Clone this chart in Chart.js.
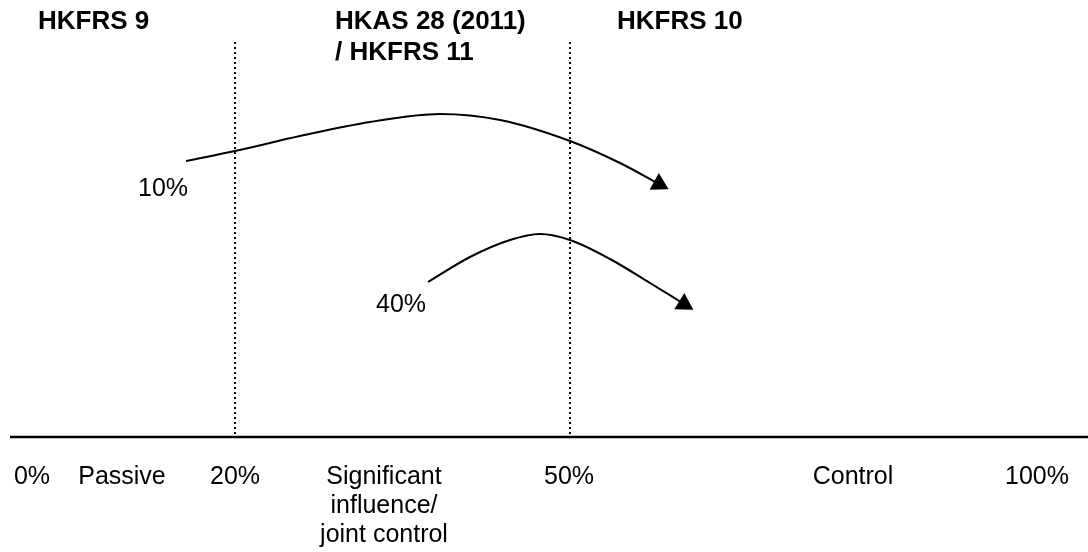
<!DOCTYPE html>
<html>
<head>
<meta charset="utf-8">
<script src="https://cdn.jsdelivr.net/npm/chart.js@4"></script>
<style>
  html, body { margin: 0; padding: 0; background: #fff; }
  canvas { display: block; }
</style>
</head>
<body>
<canvas id="myChart" width="1088" height="552"></canvas>
<script>
'use strict';

// diagram units: x 0..1088 left to right, y 0..552 top to bottom
let axisLine = [ { x: 10, y: 437 }, { x: 1088, y: 437 } ];
let boundary20 = [ { x: 235, y: 42 }, { x: 235, y: 437 } ];
let boundary50 = [ { x: 570, y: 42 }, { x: 570, y: 437 } ];

let arrow10 = [
  { x: 186, y: 161 }, { x: 235, y: 151 }, { x: 300, y: 136 }, { x: 370, y: 122 },
  { x: 440, y: 114 }, { x: 500, y: 120 }, { x: 570, y: 141 }, { x: 620, y: 163 },
  { x: 659, y: 184 }
];
let arrow40 = [
  { x: 428, y: 282 }, { x: 470, y: 257 }, { x: 510, y: 240 }, { x: 540, y: 234 },
  { x: 570, y: 240 }, { x: 610, y: 259 }, { x: 650, y: 283 }, { x: 684, y: 304 }
];

let headerLabels = [ 'HKFRS 9', 'HKAS 28 (2011)', '/ HKFRS 11', 'HKFRS 10' ];
let stakeLabels = [ '10%', '40%' ];
let bottomLabels = [ '0%', 'Passive', '20%', 'Significant', 'influence/', 'joint control', '50%', 'Control', '100%' ];

// where each text goes (diagram units), same order as the label arrays
const headerPos = [ [ 38, 29 ], [ 335, 29 ], [ 335, 60 ], [ 617, 29 ] ];
const stakePos = [ [ 163, 196 ], [ 401, 312 ] ];
const bottomPos = [ [ 32, 484 ], [ 122, 484 ], [ 235, 484 ], [ 384, 484 ], [ 384, 513 ], [ 384, 542 ], [ 569, 484 ], [ 853, 484 ], [ 1037, 484 ] ];

function headStyles( arr, rot ) {
  return {
    pointStyle: arr.map( ( p, i ) => i === arr.length - 1 ? 'triangle' : false ),
    pointRadius: arr.map( ( p, i ) => i === arr.length - 1 ? 9 : 0 ),
    pointRotation: rot
  };
}

const textPlugin = {
  id: 'diagramText',
  afterDraw( chart ) {
    const ctx = chart.ctx;
    const xs = chart.scales.x;
    const ys = chart.scales.y;
    ctx.save();
    ctx.fillStyle = '#000';
    ctx.textBaseline = 'alphabetic';

    ctx.font = 'bold 26px "Liberation Sans", Arial, sans-serif';
    ctx.textAlign = 'left';
    headerLabels.forEach( ( t, i ) => {
      ctx.fillText( t, xs.getPixelForValue( headerPos[i][0] ), ys.getPixelForValue( headerPos[i][1] ) );
    } );

    ctx.font = '25px "Liberation Sans", Arial, sans-serif';
    ctx.textAlign = 'center';
    stakeLabels.forEach( ( t, i ) => {
      ctx.fillText( t, xs.getPixelForValue( stakePos[i][0] ), ys.getPixelForValue( stakePos[i][1] ) );
    } );
    bottomLabels.forEach( ( t, i ) => {
      ctx.fillText( t, xs.getPixelForValue( bottomPos[i][0] ), ys.getPixelForValue( bottomPos[i][1] ) );
    } );
    ctx.restore();
  }
};

let ctx = document.getElementById( 'myChart' ).getContext( '2d' );
let myChart = new Chart( ctx, {
  type: 'scatter',
  data: {
    datasets: [{
      data: axisLine,
      showLine: true,
      borderColor: '#000',
      borderWidth: 2.5,
      pointRadius: 0
    }, {
      data: boundary20,
      showLine: true,
      borderColor: '#000',
      borderWidth: 2,
      borderDash: [ 2, 3 ],
      pointRadius: 0
    }, {
      data: boundary50,
      showLine: true,
      borderColor: '#000',
      borderWidth: 2,
      borderDash: [ 2, 3 ],
      pointRadius: 0
    }, Object.assign( {
      data: arrow10,
      showLine: true,
      borderColor: '#000',
      backgroundColor: '#000',
      borderWidth: 2,
      cubicInterpolationMode: 'monotone'
    }, headStyles( arrow10, 119 ) ), Object.assign( {
      data: arrow40,
      showLine: true,
      borderColor: '#000',
      backgroundColor: '#000',
      borderWidth: 2,
      cubicInterpolationMode: 'monotone'
    }, headStyles( arrow40, 122 ) ) ]
  },
  options: {
    responsive: false,
    animation: false,
    layout: { padding: 0, autoPadding: false },
    plugins: {
      legend: { display: false },
      tooltip: { enabled: false }
    },
    scales: {
      x: { type: 'linear', min: 0, max: 1088, display: false },
      y: { type: 'linear', min: 0, max: 552, reverse: true, display: false }
    }
  },
  plugins: [ textPlugin ]
} );
</script>
</body>
</html>
